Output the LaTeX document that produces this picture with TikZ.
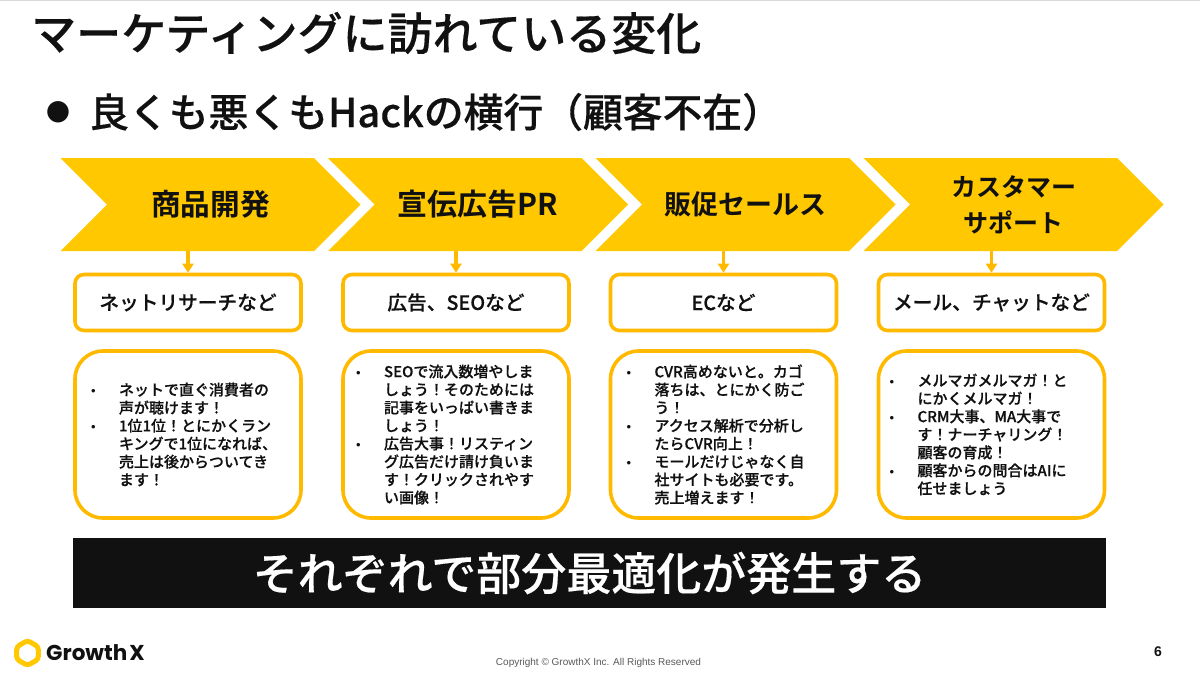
\documentclass[tikz,border=0pt]{standalone}
\usepackage{fontspec}
\setmainfont{Noto Sans CJK JP Medium}[FakeBold=0.35,BoldFont={Noto Sans CJK JP Bold},BoldFeatures={FakeBold=0}]
\newfontfamily\logofont{Poppins}
\newfontfamily\footfont{Liberation Sans}
\usetikzlibrary{shapes.symbols,shapes.geometric,arrows.meta}
\definecolor{chev}{HTML}{FFC800}
\definecolor{edge}{HTML}{FFBA00}
\definecolor{ink}{HTML}{111111}
\newcommand{\bu}{\makebox[29pt][l]{\hspace*{1pt}\footfont\fontsize{13}{13}\selectfont •}}
\newcommand{\cn}{\hspace*{29pt}}
\tikzset{
 chevron/.style={signal,signal from=west,signal to=east,signal pointer angle=90,fill=chev,draw=none,
   minimum width=300pt,minimum height=93pt,inner sep=0pt,outer sep=0pt,text=ink,align=center,
   font=\fontsize{29.7}{36}\selectfont\bfseries},
 smallbox/.style={draw=edge,line width=3.6pt,rounded corners=9pt,fill=white,minimum width=226pt,minimum height=56pt,
   inner sep=0pt,text=ink,font=\fontsize{19.7}{24}\selectfont},
 bigbox/.style={draw=edge,line width=3.6pt,rounded corners=28pt,fill=white,minimum width=226pt,minimum height=167pt,
   inner ysep=0pt,text=ink,align=left,text width=196pt,inner xsep=15pt,font=\fontsize{15}{18}\selectfont},
 down/.style={draw=edge,line width=3.4pt,-{Triangle[length=9pt,width=11pt]},shorten >=0pt},
 heading/.style={anchor=west,inner sep=0pt,text=ink,font=\fontsize{45}{50}\selectfont},
}
\begin{document}
\begin{tikzpicture}[x=1pt,y=-1pt]
\useasboundingbox (0,0) rectangle (1200,675);
\fill[white] (0,0) rectangle (1200,675);
\fill[black!15] (0,0) rectangle (1200,1.2);
\node[heading] (title) at (31,33) {マーケティングに訪れている変化};
\node[anchor=center,inner sep=0pt,text=ink,font=\fontsize{28}{30}\selectfont] (dot) at (58,112) {\fontspec{DejaVu Sans}●};
\node[heading,font=\fontsize{39.8}{44}\selectfont] (sub) at (89,112) {良くも悪くもHackの横行（顧客不在）};
\node[chevron] (c1) at (210.5,204.5) {商品開発};
\node[chevron,font=\fontsize{30}{36}\selectfont\bfseries] (c2) at (478,204.5) {宣伝広告PR};
\node[chevron,font=\fontsize{27}{36}\selectfont\bfseries] (c3) at (745.5,204.5) {販促セールス};
\node[chevron,font=\fontsize{25}{36}\selectfont\bfseries] (c4) at (1013.5,204.5) {カスタマー\\サポート};
\node[smallbox] (s1) at (188,302.5) {ネットリサーチなど};
\node[smallbox] (s2) at (456,302.5) {広告、SEOなど};
\node[smallbox] (s3) at (723.5,302.5) {ECなど};
\node[smallbox] (s4) at (991.5,302.5) {メール、チャットなど};
\foreach \i in {1,2,3,4} \draw[down] (s\i.north |- c\i.south) -- (s\i.north);
\node[bigbox] (b1) at (188,434.5) {\bu ネットで直ぐ消費者の\\\cn 声が聴けます！\\\bu 1位1位！とにかくラン\\\cn キングで1位になれば、\\\cn 売上は後からついてき\\\cn ます！};
\node[bigbox,inner xsep=12pt,text width=202pt] (b2) at (456,434.5) {\bu SEOで流入数増やしま\\\cn しょう！そのためには\\\cn 記事をいっぱい書きま\\\cn しょう！\\\bu 広告大事！リスティン\\\cn グ広告だけ請け負いま\\\cn す！クリックされやす\\\cn い画像！};
\node[bigbox] (b3) at (723.5,434.5) {\bu CVR高めないと。カゴ\\\cn 落ちは、とにかく防ご\\\cn う！\\\bu アクセス解析で分析し\\\cn たらCVR向上！\\\bu モールだけじゃなく自\\\cn 社サイトも必要です。\\\cn 売上増えます！};
\node[bigbox,inner xsep=10pt,text width=206pt] (b4) at (991.5,434.5) {\bu メルマガメルマガ！と\\\cn にかくメルマガ！\\\bu CRM大事、MA大事で\\\cn す！ナーチャリング！\\\cn 顧客の育成！\\\bu 顧客からの問合はAIに\\\cn 任せましょう};
\node[fill=ink,minimum width=1033pt,minimum height=70.5pt,inner sep=0pt,text=white,font=\fontsize{45}{50}\selectfont] (bar) at (589.5,573) {それぞれで部分最適化が発生する};
\node[regular polygon,regular polygon sides=6,rotate=30,draw=chev,line width=5pt,rounded corners=3pt,minimum size=25pt,inner sep=0pt] (hex) at (27.5,653) {};
\node[anchor=west,inner sep=0pt,text=ink,font=\logofont\fontsize{21.5}{24}\selectfont\bfseries] (logo) at (46,653) {Growth\kern2pt X};
\node[inner sep=0pt,text=black!65,font=\footfont\fontsize{10}{12}\selectfont] (copy) at (598.5,663) {Copyright © GrowthX Inc. All Rights Reserved};
\node[inner sep=0pt,text=ink,font=\footfont\fontsize{14}{16}\selectfont\bfseries] (page) at (1158,652) {6};
\end{tikzpicture}
\end{document}
